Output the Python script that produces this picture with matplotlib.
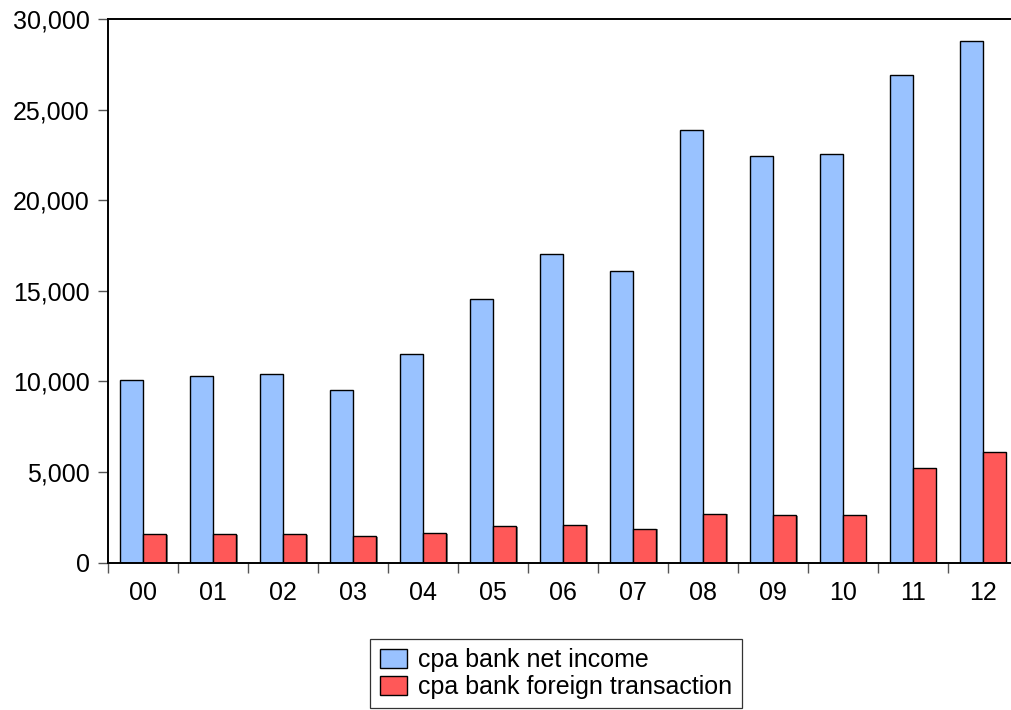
import numpy as np
import matplotlib
matplotlib.use("Agg")
import matplotlib.pyplot as plt
from matplotlib.ticker import FuncFormatter, FixedLocator
import matplotlib.patheffects as pe

plt.rcParams["font.family"] = ["Liberation Sans", "DejaVu Sans"]

years = ["00", "01", "02", "03", "04", "05", "06", "07", "08", "09", "10", "11", "12"]
net_income = [10100, 10320, 10410, 9530, 11530, 14530, 17050, 16110,
              23890, 22420, 22550, 26930, 28800]
foreign_tx = [1570, 1570, 1570, 1460, 1620, 2020, 2100, 1880,
              2700, 2620, 2620, 5240, 6120]

BLUE = "#99c2ff"
RED = "#ff5858"

fig = plt.figure(figsize=(10.11, 7.10), dpi=100)
ax = fig.add_axes([0.1065, 0.2075, 0.9, 0.7657])

x = np.arange(len(years))
w = 0.33
shadow = [pe.SimplePatchShadow(offset=(1.2, -0.5), shadow_rgbFace="#555555", alpha=0.7),
          pe.Normal()]
b1 = ax.bar(x - 0.163, net_income, width=w, color=BLUE, edgecolor="black",
            linewidth=1.0, label="cpa bank net income")
b2 = ax.bar(x + 0.167, foreign_tx, width=w, color=RED, edgecolor="black",
            linewidth=1.0, label="cpa bank foreign transaction")
for bar in list(b1) + list(b2):
    bar.set_path_effects(shadow)

ax.set_xlim(-0.5, 12.5)
ax.set_ylim(0, 30000)
ax.set_yticks(range(0, 30001, 5000))
ax.yaxis.set_major_formatter(FuncFormatter(lambda v, _: f"{int(v):,}"))
ax.set_xticks(x)
ax.set_xticklabels(years)
ax.xaxis.set_minor_locator(FixedLocator(x - 0.5))

ax.tick_params(axis="y", direction="out", length=7, width=1.0, color="#555555",
               labelsize=18, pad=6)
ax.tick_params(axis="x", which="major", length=0, labelsize=18, pad=13)
ax.tick_params(axis="x", which="minor", direction="out", length=7.5, width=1.0,
               color="#555555")

for side in ["left", "top", "bottom"]:
    ax.spines[side].set_linewidth(1.4)
    ax.spines[side].set_color("black")
ax.spines["right"].set_visible(False)

leg = fig.legend(handles=[b1, b2], loc="center", bbox_to_anchor=(0.55, 0.0514),
                 fontsize=18, frameon=True, fancybox=False, shadow=False,
                 handlelength=1.1, handleheight=0.8, handletextpad=0.42,
                 labelspacing=0.1, borderpad=0.38, borderaxespad=0)
leg.get_frame().set_edgecolor("black")
leg.get_frame().set_linewidth(0.9)
for h in leg.legend_handles:
    h.set_path_effects([])

fig.savefig("out.png", dpi=100)
